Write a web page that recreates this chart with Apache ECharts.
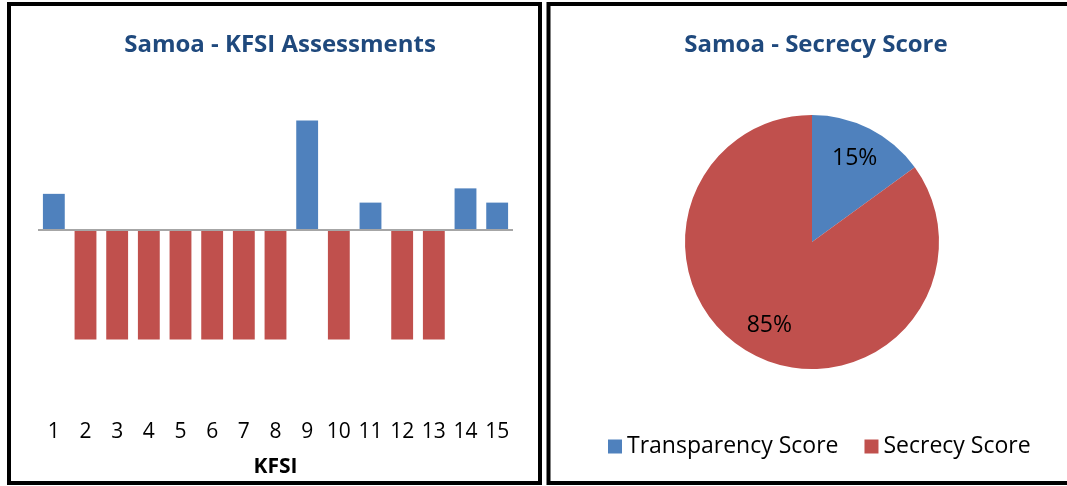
<!DOCTYPE html>
<html>
<head>
<meta charset="utf-8">
<script src="https://cdn.jsdelivr.net/npm/echarts@6/dist/echarts.min.js"></script>
<style>
  html, body { margin: 0; padding: 0; background: #fff; }
  #main { width: 1067px; height: 486px; }
</style>
</head>
<body>
<div id="main"></div>
<script>
  // KFSI bar chart data
  const kfsiLabels = ['1', '2', '3', '4', '5', '6', '7', '8', '9', '10', '11', '12', '13', '14', '15'];
  const transparencyValues = [0.33, '-', '-', '-', '-', '-', '-', '-', 1, '-', 0.25, '-', '-', 0.38, 0.25];
  const secrecyValues = ['-', -1, -1, -1, -1, -1, -1, -1, '-', -1, '-', -1, -1, '-', '-'];

  // pie data
  const pieNames = ['Transparency Score', 'Secrecy Score'];
  const pieValues = [15, 85];

  const blue = '#4f81bd';
  const red = '#c0504d';
  const titleColor = '#1f497d';
  const font = 'Open Sans';

  const pieData = pieNames.map((n, i) => ({ name: n, value: pieValues[i], itemStyle: { color: i === 0 ? blue : red } }));

  let myChart = echarts.init(document.getElementById('main'));
  myChart.setOption({
    animation: false,
    textStyle: { fontFamily: font },
    graphic: [
      // panel frames
      { type: 'rect', shape: { x: 9, y: 4, width: 531, height: 479 }, style: { fill: 'none', stroke: '#000', lineWidth: 4 } },
      { type: 'rect', shape: { x: 548.5, y: 4, width: 532, height: 479 }, style: { fill: 'none', stroke: '#000', lineWidth: 4 } }
    ],
    title: [
      {
        text: 'Samoa - KFSI Assessments',
        left: 275, top: 28, textAlign: 'center',
        textStyle: { fontFamily: font, fontSize: 24, fontWeight: 'bold', color: titleColor }
      },
      {
        text: 'Samoa - Secrecy Score',
        left: 811, top: 28, textAlign: 'center',
        textStyle: { fontFamily: font, fontSize: 24, fontWeight: 'bold', color: titleColor }
      }
    ],
    legend: {
      data: pieNames,
      left: 603, top: 430,
      icon: 'rect', itemWidth: 14, itemHeight: 14, itemGap: 26,
      textStyle: { fontFamily: font, fontSize: 23, color: '#000' }
    },
    grid: { left: 38, width: 475, top: 98.6, height: 317.5 },
    xAxis: {
      type: 'category',
      data: kfsiLabels,
      axisLine: { show: false, onZero: false },
      axisTick: { show: false },
      axisLabel: { margin: 5, color: '#000', fontSize: 21, fontFamily: font },
      name: 'KFSI',
      nameLocation: 'middle',
      nameGap: 40,
      nameTextStyle: { color: '#000', fontSize: 21, fontWeight: 'bold', fontFamily: font }
    },
    yAxis: {
      type: 'value',
      min: -1.7, max: 1.2,
      show: false,
      splitLine: { show: false }
    },
    series: [
      {
        name: 'Transparency',
        type: 'bar',
        data: transparencyValues,
        barCategoryGap: '31%',
        barGap: '-100%',
        itemStyle: { color: blue }
      },
      {
        name: 'Secrecy',
        type: 'bar',
        data: secrecyValues,
        barCategoryGap: '31%',
        barGap: '-100%',
        itemStyle: { color: red },
        markLine: {
          silent: true,
          symbol: 'none',
          label: { show: false },
          lineStyle: { color: '#a6a6a6', width: 2, type: 'solid' },
          data: [{ yAxis: 0 }]
        }
      },
      {
        type: 'pie',
        center: [812, 242],
        radius: 127,
        startAngle: 90,
        clockwise: true,
        label: { show: false },
        labelLine: { show: false },
        data: pieData
      },
      {
        // label ring: places percentages further out than the midpoint
        type: 'pie',
        center: [812, 242],
        radius: [55, 127],
        startAngle: 90,
        clockwise: true,
        silent: true,
        itemStyle: { color: 'transparent' },
        label: { show: true, position: 'inside', formatter: '{d}%', color: '#000', fontSize: 23, fontFamily: font },
        labelLine: { show: false },
        data: pieNames.map((n, i) => ({ name: n, value: pieValues[i] }))
      }
    ]
  });
  window.onresize = myChart.resize;
</script>
</body>
</html>
